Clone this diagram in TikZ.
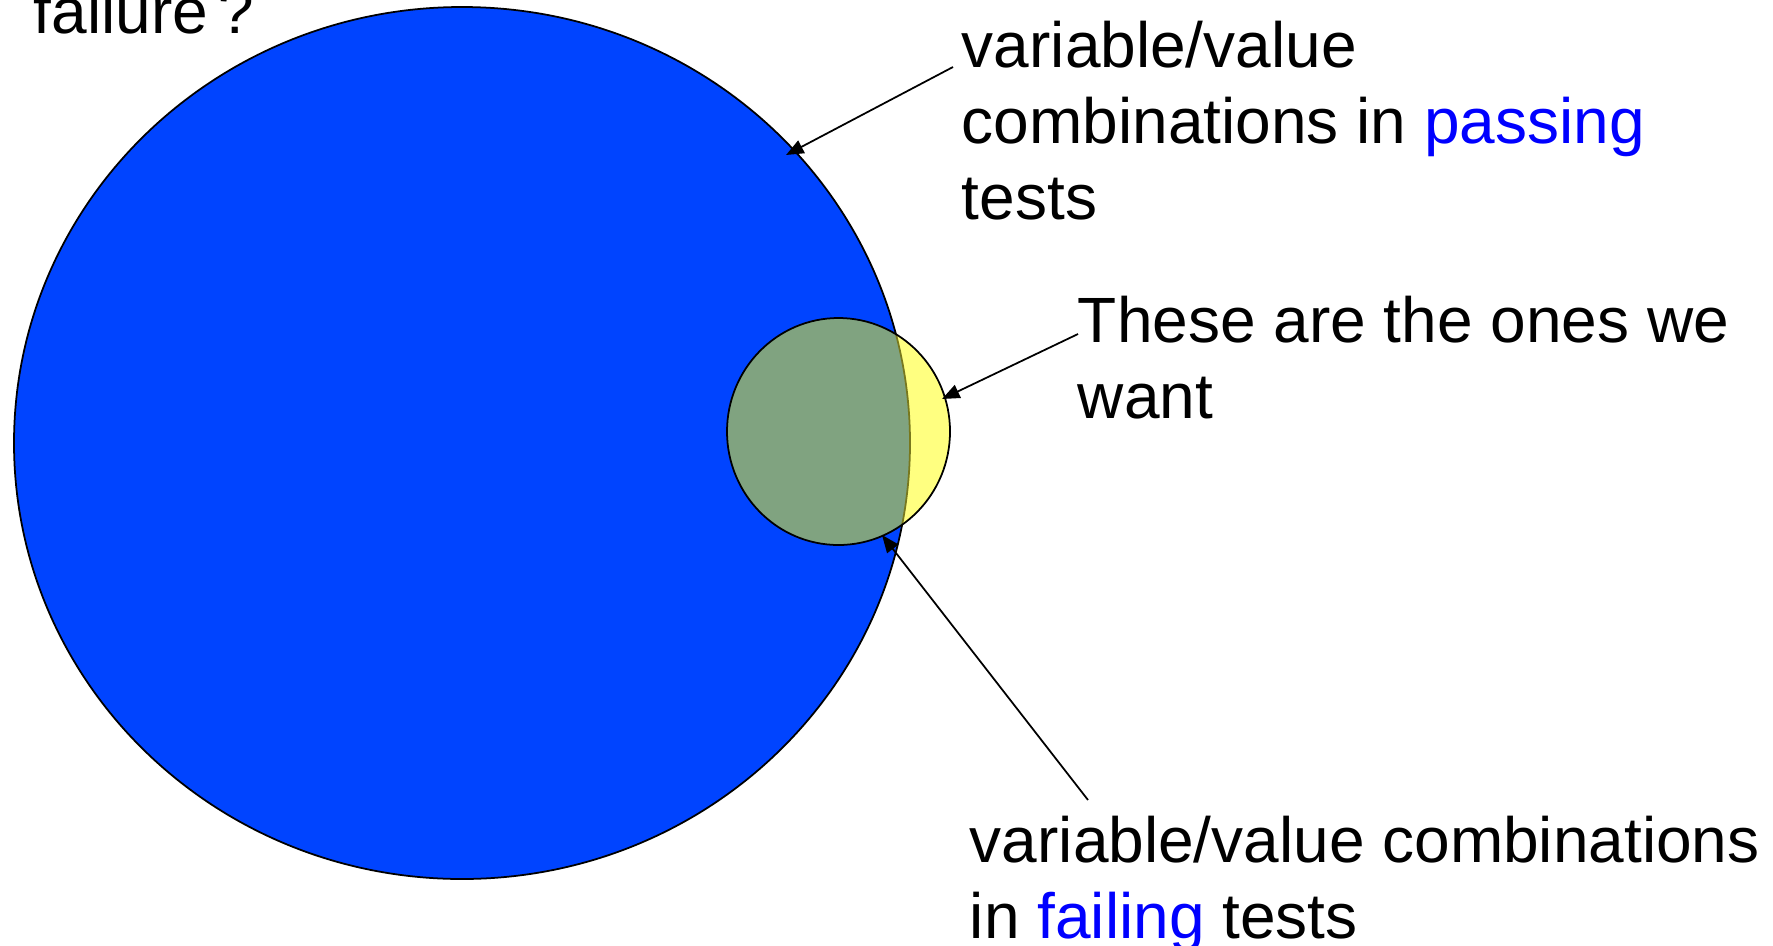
\documentclass[tikz,border=0pt]{standalone}
\usepackage{fontspec}
\setmainfont{Liberation Sans}
\usetikzlibrary{arrows.meta}

\definecolor{passblue}{RGB}{0,68,255}
\definecolor{failyellow}{RGB}{255,255,128}
\definecolor{bothgreen}{RGB}{128,163,128}
\definecolor{seenline}{RGB}{120,120,30}
\definecolor{wordblue}{RGB}{0,0,255}

\tikzset{
  note/.style={anchor=north west, inner sep=0pt, align=left,
    font=\fontsize{18.2}{21.6}\selectfont},
  pointer/.style={-{Triangle[length=5pt,width=4pt]}, line width=0.5pt},
}

\begin{document}
\begin{tikzpicture}[x=0.01cm, y=-0.01cm, line width=0.5pt]
   \useasboundingbox (0,0) rectangle (1773,945);

   % the two sets
   \fill[passblue, draw=black] (462,443) ellipse [x radius=448, y radius=436];
   \fill[failyellow] (838.5,431.5) ellipse [x radius=111.5, y radius=113.5];
   \begin{scope}
      \clip (838.5,431.5) ellipse [x radius=111.5, y radius=113.5];
      \fill[bothgreen] (462,443) ellipse [x radius=448, y radius=436];
      \draw[seenline] (462,443) ellipse [x radius=448, y radius=436];
   \end{scope}
   \draw (838.5,431.5) ellipse [x radius=111.5, y radius=113.5];

   % texts
   \node[anchor=base west, inner sep=0pt, font=\fontsize{18.2}{21.6}\selectfont]
      (why) at (33,33) {failure\,?};
   \node[note] (pass) at (961,20)
      {variable/value\\combinations in \textcolor{wordblue}{passing}\\tests};
   \node[note] (want) at (1077,295) {These are the ones we\\want};
   \node[note] (fail) at (969,815)
      {variable/value combinations\\in \textcolor{wordblue}{failing} tests};

   % pointers
   \coordinate (pass-tip) at (786,155);
   \coordinate (want-tip) at (942,399);
   \coordinate (fail-tip) at (882,535);
   \coordinate (pass-end) at (953,67);
   \coordinate (want-end) at (1078,334);
   \coordinate (fail-end) at (1088,800);
   \draw[pointer] (pass-end) -- (pass-tip);
   \draw[pointer] (want-end) -- (want-tip);
   \draw[pointer] (fail-end) -- (fail-tip);
\end{tikzpicture}
\end{document}
